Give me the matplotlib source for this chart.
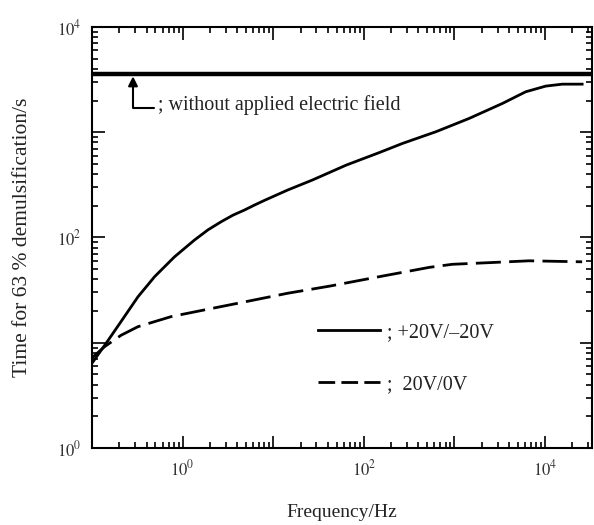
import matplotlib
matplotlib.use('Agg')
import matplotlib.pyplot as plt
from matplotlib.ticker import LogLocator, FuncFormatter, NullFormatter
from matplotlib.lines import Line2D
import numpy as np

plt.rcParams['font.family'] = ['Liberation Serif', 'DejaVu Serif']
plt.rcParams['mathtext.fontset'] = 'stix'

# +20V/-20V (solid)
freq_bipolar = [0.1, 0.15, 0.21, 0.321, 0.49, 0.815, 1.35, 1.9, 2.66, 3.6, 4.8,
                6.2, 8, 14.4, 27, 64, 148, 268, 625, 1456, 3390, 6120, 10180,
                15500, 25700]
time_bipolar = [6.4, 10.5, 16, 27.3, 42.4, 65.6, 94.5, 118, 141, 163, 182,
                203, 225, 282, 351, 487, 640, 783, 1010, 1352, 1876, 2420, 2740,
                2860, 2860]

# 20V/0V (dashed)
freq_unipolar = [0.1, 0.138, 0.21, 0.321, 0.746, 1.74, 4.06, 14.4, 42, 148, 529,
                 950, 2860, 6640, 25700]
time_unipolar = [7.2, 9.2, 11.8, 14.2, 17.7, 20.5, 23.7, 29.5, 34.5, 42.4, 52,
                 55.6, 58, 60, 58.7]

# without applied electric field
time_no_field = 3600

fig = plt.figure(figsize=(5.94, 5.25), dpi=100)
ax = fig.add_axes([0.155, 0.1467, 0.8416, 0.802])

ax.set_xscale('log')
ax.set_yscale('log')
ax.set_xlim(0.1, 3.3e4)
ax.set_ylim(1, 1e4)

ax.axhline(time_no_field, color='black', lw=3.2)
ax.plot(freq_bipolar, time_bipolar, color='black', lw=2)
ax.plot(freq_unipolar, time_unipolar, color='black', lw=2, dashes=(9, 3))

ax.annotate('', xy=(0.283, 3400), xytext=(0.482, 1694),
            arrowprops=dict(arrowstyle='-|>', color='black', lw=1.5,
                            connectionstyle='angle,angleA=0,angleB=90,rad=0',
                            shrinkA=0, shrinkB=0, mutation_scale=14))
ax.text(0.54, 1800, '; without applied electric field', fontsize=14.5,
        va='center', ha='left', color='#222222')

handles = [Line2D([], [], color='black', lw=2),
           Line2D([], [], color='black', lw=2, dashes=(6, 2.25))]
ax.legend(handles, ['; +20V/\u201320V', ';  20V/0V'], loc='center left',
          bbox_to_anchor=(0.452, 0.212), frameon=False, fontsize=14.5,
          handlelength=3.1, handletextpad=0.3, labelspacing=1.65,
          borderpad=0, borderaxespad=0, labelcolor='#222222')

def even_decades(v, pos):
    e = int(round(np.log10(v)))
    return '$10^{%d}$' % e if e % 2 == 0 else ''

for axis in (ax.xaxis, ax.yaxis):
    axis.set_major_locator(LogLocator(base=10, numticks=20))
    axis.set_minor_locator(LogLocator(base=10, subs=np.arange(2, 10), numticks=20))
    axis.set_major_formatter(FuncFormatter(even_decades))
    axis.set_minor_formatter(NullFormatter())

ax.tick_params(which='both', direction='in', top=True, right=True,
               labelsize=12, labelcolor='#333333', width=1.2)
ax.tick_params(which='major', length=9, pad=8)
ax.tick_params(which='minor', length=4.5)
for s in ax.spines.values():
    s.set_linewidth(1.5)

ax.set_xlabel('Frequency/Hz', fontsize=14, color='#222222', labelpad=18)
ax.set_ylabel('Time for 63 % demulsification/s', fontsize=15.5, color='#222222',
              labelpad=18)

fig.savefig('out.png', dpi=100)
